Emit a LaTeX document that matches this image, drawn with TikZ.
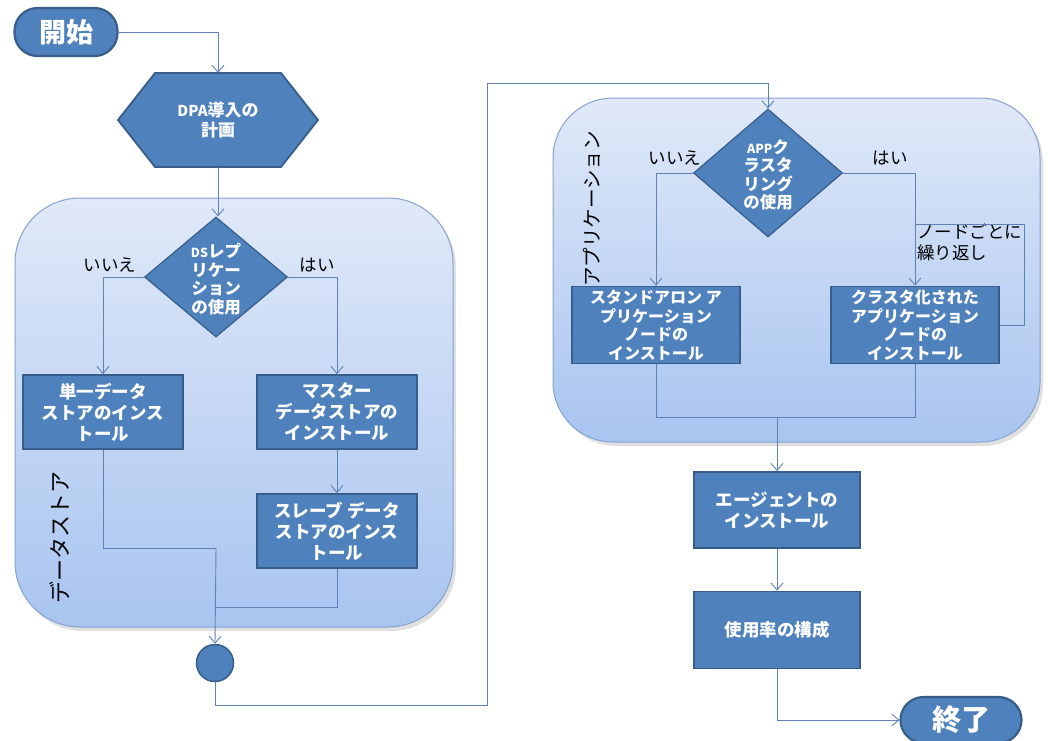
\documentclass[tikz,border=0pt]{standalone}
\usepackage{fontspec}
\setmainfont{Noto Sans CJK JP}
\usetikzlibrary{arrows.meta,shapes.geometric,calc,backgrounds}
\definecolor{boxblue}{HTML}{4F81BD}
\definecolor{boxedge}{HTML}{385D8A}
\definecolor{lineblue}{HTML}{5F82B6}
\definecolor{contTop}{HTML}{E0E9F8}
\definecolor{contBot}{HTML}{A8C4F0}
\definecolor{contEdge}{HTML}{86A3D2}
\tikzset{
  flow/.style={draw=lineblue, line width=0.9pt, -{Straight Barb[length=7pt,width=12pt]}},
  plain/.style={draw=lineblue, line width=0.9pt},
  procbox/.style={rectangle, fill=boxblue, draw=boxedge, line width=1.8pt, text=white,
    font=\bfseries\fontsize{17.5}{21}\selectfont, align=center, inner sep=0pt},
  appbox/.style={procbox, font=\bfseries\fontsize{16}{18.5}\selectfont},
  decide/.style={diamond, fill=boxblue, draw=boxedge, line width=1.2pt, inner sep=0pt},
  dectext/.style={text=white, font=\bfseries\fontsize{16.5}{18.5}\selectfont, align=center, inner sep=0pt},
  terminal/.style={rectangle, rounded corners=23pt, fill=boxblue, draw=boxedge, line width=2.2pt,
    text=white, font=\bfseries\fontsize{27}{30}\selectfont, inner sep=0pt},
  joinpt/.style={circle, fill=boxblue, draw=boxedge, line width=1.5pt, minimum size=37pt, inner sep=0pt},
  answer/.style={text=black, font=\fontsize{17.5}{18}\selectfont, inner sep=0pt},
  lanelabel/.style={text=black, font=\fontsize{22}{22}\selectfont, inner sep=0pt, rotate=90},
  lane/.style={top color=contTop, bottom color=contBot, draw=contEdge, line width=1pt},
  laneshadow/.style={fill=black, opacity=0.12},
}
\begin{document}
\begin{tikzpicture}[x=1pt,y=-1pt]
\useasboundingbox (0,0) rectangle (1048,740);
\fill[white] (0,0) rectangle (1048,740);

% containers
\fill[laneshadow, rounded corners=65pt] (18,202) rectangle (456,631);
\shade[lane, rounded corners=65pt] (15,198) rectangle (453,627);
\fill[laneshadow, rounded corners=60pt] (556,102) rectangle (1043,446);
\shade[lane, rounded corners=60pt] (553,98) rectangle (1040,442);

% hexagon
\filldraw[fill=boxblue, draw=boxedge, line width=1.8pt]
  (118,120) -- (155,73) -- (281,73) -- (318,120) -- (281,167) -- (155,167) -- cycle;

% nodes
\node[terminal, minimum width=103pt, minimum height=48pt] (start) at (66,32) {開始};
\node[rectangle, minimum width=200pt, minimum height=94pt, inner sep=0pt, text=white,
  font=\bfseries\fontsize{17}{19.5}\selectfont, align=center] (plan) at (218,120)
  {{\fontsize{15}{19.5}\selectfont DPA}導入の\\計画};

\node[decide, minimum width=143pt, minimum height=120pt] (dec1) at (216,277) {};
\node[dectext] (dec1t) at (216,279) {{\fontsize{12.5}{18.5}\selectfont DS}レプ\\リケー\\ション\\の使用};
\node[answer] (no1) at (110,265) {いいえ};
\node[answer] (yes1) at (317,265) {はい};

\node[procbox, minimum width=160pt, minimum height=74pt] (single) at (103,412) {単一データ\\ストアのインス\\トール};
\node[procbox, minimum width=160pt, minimum height=74pt] (master) at (337,412) {マスター\\データストアの\\インストール};
\node[procbox, minimum width=160pt, minimum height=74pt] (slave) at (337,531) {スレーブ データ\\ストアのインス\\トール};
\node[lanelabel] (dslabel) at (60,537) {データストア};

\node[joinpt] (join) at (215,663) {};

\node[decide, minimum width=149pt, minimum height=128pt] (dec2) at (768,173) {};
\node[dectext] (dec2t) at (768,175) {{\fontsize{12.5}{18.5}\selectfont APP}ク\\ラスタ\\リング\\の使用};
\node[answer] (no2) at (675,158) {いいえ};
\node[answer] (yes2) at (890,158) {はい};
\node[lanelabel, font=\fontsize{19.5}{20}\selectfont] (applabel) at (592,209) {アプリケーション};

\node[appbox, minimum width=168pt, minimum height=77pt] (alone) at (656,325) {スタンドアロン ア\\プリケーション\\ノードの\\インストール};
\node[appbox, minimum width=168pt, minimum height=77pt] (cluster) at (915,325) {クラスタ化された\\アプリケーション\\ノードの\\インストール};
\node[answer, font=\fontsize{17.5}{21}\selectfont, align=left, anchor=north west] (repeat) at (917,224) {ノードごとに\\繰り返し};

\node[procbox, minimum width=166pt, minimum height=76pt] (agent) at (777,510) {エージェントの\\インストール};
\node[procbox, minimum width=166pt, minimum height=77pt] (usage) at (777,630) {使用率の構成};
\node[terminal, minimum width=121pt, minimum height=46pt, font=\bfseries\fontsize{29}{30}\selectfont] (end) at (961,720) {終了};

% helper coordinates
\coordinate (mA) at (216,548);
\coordinate (mB) at (216,607);
\coordinate (r1) at (487,705);
\coordinate (r2) at (487,83);
\coordinate (loopA) at (1024,224);
\coordinate (mC) at (777,417);

% connectors
\draw[flow] (start.east) -| (plan.north);
\draw[flow] (plan.south) -- (plan.south |- dec1.north);
\draw[flow] (dec1.west) -| (single.north);
\draw[flow] (dec1.east) -| (master.north);
\draw[flow] (master.south) -- (slave.north);
\draw[plain] (single.south) |- (mA);
\draw[plain] (slave.south) |- (mB);
\draw[flow] (mA) -- (join.north);
\draw[flow] (join.south) |- (r1) -- (r2) -| (dec2.north);
\draw[flow] (dec2.west) -| (alone.north);
\draw[flow] (dec2.east) -| (cluster.north);
\draw[plain] (cluster.east) -| (loopA) -- (loopA -| cluster.north);
\draw[plain] (alone.south) |- (mC);
\draw[plain] (cluster.south) |- (mC);
\draw[flow] (mC) -- (agent.north);
\draw[flow] (agent.south) -- (usage.north);
\draw[flow] (usage.south) |- (end.west);
\end{tikzpicture}
\end{document}
